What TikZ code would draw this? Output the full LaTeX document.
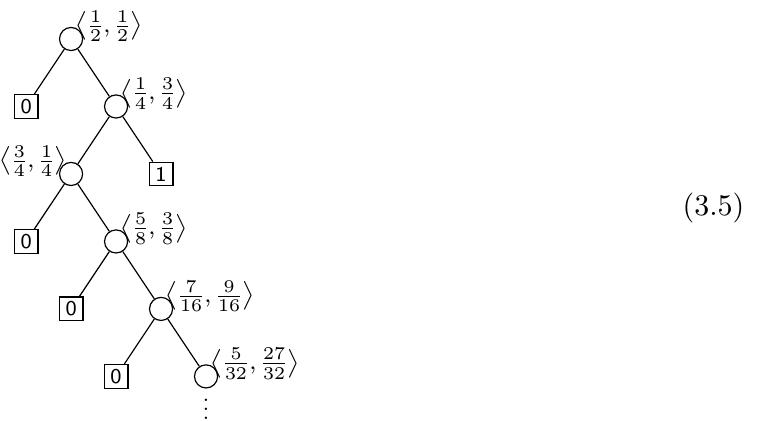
\documentclass[tikz,border=0pt]{standalone}
\usepackage{amsmath}
\usepackage{amssymb}
\usepackage{tikz}

\newcommand{\pair}[4]{$\nulldelimiterspace=0.8pt\left\langle\frac{#1}{#2},\frac{#3}{#4}\right\rangle$}

\begin{document}
\begin{tikzpicture}[x=15pt, y=22.5pt, font=\footnotesize,
    inner/.style={draw, circle, minimum size=7.7pt, inner sep=0pt},
    leaf/.style={draw, rectangle, minimum size=7.9pt, inner sep=0pt, font=\scriptsize\sffamily},
    every label/.style={inner sep=0pt, yshift=-2.4pt},
    label distance=-2.2pt]
      \useasboundingbox (-23.7pt,-127.3pt) rectangle (228.7pt,13pt);

      \node[inner, label=45:{\pair{1}{2}{1}{2}}]     (N0) at (0,  0)  {};
      \node[leaf]                                    (L1) at (-1, -1) {0};
      \node[inner, label=45:{\pair{1}{4}{3}{4}}]     (N1) at (1, -1)  {};
      \node[inner, label=135:{\pair{3}{4}{1}{4}}]    (N2) at (0, -2)  {};
      \node[leaf]                                    (L2) at (2, -2)  {1};
      \node[leaf]                                    (L3) at (-1, -3) {0};
      \node[inner, label=45:{\pair{5}{8}{3}{8}}]     (N3) at (1, -3)  {};
      \node[leaf]                                    (L4) at (0, -4)  {0};
      \node[inner, label=45:{\pair{7}{16}{9}{16}}]   (N4) at (2, -4)  {};
      \node[leaf]                                    (L5) at (1, -5)  {0};
      \node[inner, label=45:{\pair{5}{32}{27}{32}}]  (N5) at (3, -5)  {};

      % continuation dots under the last node
      \node[inner sep=0pt, anchor=north, font=\scriptsize] (V) at ([yshift=-3.3pt]N5.south)
           {\vbox{\baselineskip3pt\lineskiplimit0pt\hbox{.}\hbox{.}\hbox{.}}};

      \node[font=\normalsize] (EQ) at (214.2pt, -56.3pt) {(3.5)};

      \draw (N0) -- (L1);
      \draw (N0) -- (N1);
      \draw (N1) -- (N2);
      \draw (N1) -- (L2);
      \draw (N2) -- (L3);
      \draw (N2) -- (N3);
      \draw (N3) -- (L4);
      \draw (N3) -- (N4);
      \draw (N4) -- (L5);
      \draw (N4) -- (N5);
    \end{tikzpicture}
\end{document}
